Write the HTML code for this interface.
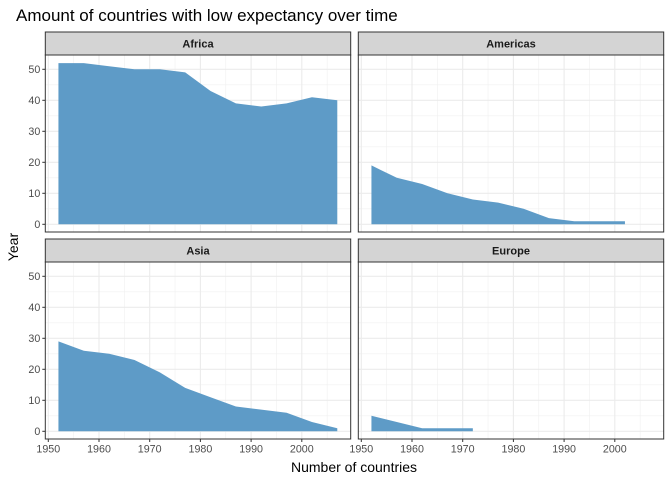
<!DOCTYPE html>
<html><head><meta charset="utf-8"><style>
body{margin:0;background:#fff;font-family:"Liberation Sans",sans-serif}
</style></head><body>
<svg id="c" width="672" height="480" xmlns="http://www.w3.org/2000/svg">
<text x="16" y="21" font-size="17" fill="#000">Amount of countries with low expectancy over time</text>
<text x="354" y="472" font-size="14" text-anchor="middle" fill="#000">Number of countries</text>
<text x="18" y="247" font-size="14" text-anchor="middle" fill="#000" transform="rotate(-90 18 247)">Year</text>
<g id="g"></g>
</svg>
<script>
const years=[1952,1957,1962,1967,1972,1977,1982,1987,1992,1997,2002,2007];
const panelNames=["Africa","Americas","Asia","Europe"];
const africa=[52,52,51,50,50,49,43,39,38,39,41,40];
const americas=[19,15,13,10,8,7,5,2,1,1,1];
const asia=[29,26,25,23,19,14,11,8,7,6,3,1];
const europe=[5,3,1,1,1];
const xTicks=[1950,1960,1970,1980,1990,2000];
const yTicks=[0,10,20,30,40,50];
const series=[africa,americas,asia,europe];
const NS="http://www.w3.org/2000/svg";
const g=document.getElementById('g');
function el(t,a,p){const e=document.createElementNS(NS,t);for(const k in a)e.setAttribute(k,a[k]);(p||g).appendChild(e);return e;}
const panels=[{x:45.3,y:55},{x:358.3,y:55},{x:45.3,y:262},{x:358.3,y:262}];
const W=305.4,H=177;
series.forEach((vals,i)=>{
  const P=panels[i];
  const sx=v=>P.x+3+(v-1950)*5.07;
  const y0=P.y+169.3;
  const sy=v=>y0-v*3.1;
  const pg=el('g',{});
  
  
  el('rect',{x:P.x,y:P.y,width:W,height:H,fill:'#fff'},pg);
  for(let v=1955;v<=2005;v+=10)el('line',{x1:sx(v),x2:sx(v),y1:P.y,y2:P.y+H,stroke:'#f0f0f0','stroke-width':0.6},pg);
  for(let v=5;v<=55;v+=10)if(sy(v)>P.y)el('line',{x1:P.x,x2:P.x+W,y1:sy(v),y2:sy(v),stroke:'#f0f0f0','stroke-width':0.6},pg);
  xTicks.forEach(v=>el('line',{x1:sx(v),x2:sx(v),y1:P.y,y2:P.y+H,stroke:'#ebebeb','stroke-width':1.1},pg));
  yTicks.forEach(v=>el('line',{x1:P.x,x2:P.x+W,y1:sy(v),y2:sy(v),stroke:'#ebebeb','stroke-width':1.1},pg));
  let d='M'+sx(years[0])+','+sy(0);
  vals.forEach((v,j)=>d+=' L'+sx(years[j])+','+sy(v));
  d+=' L'+sx(years[vals.length-1])+','+sy(0)+'Z';
  const a=el('path',{d:d,fill:'#5e9bc7'},pg);
  
  
  el('rect',{x:P.x,y:P.y,width:W,height:H,fill:'none',stroke:'#333','stroke-width':1},pg);
  const s=el('rect',{x:P.x,y:P.y-23,width:W,height:23,fill:'#d4d4d4',stroke:'#333','stroke-width':1},pg);
  
  
  const st=el('text',{x:P.x+W/2,y:P.y-7.5,'font-size':11,'font-weight':'bold','text-anchor':'middle',fill:'#1a1a1a'},pg);
  st.textContent=panelNames[i];
  if(i%2==0){yTicks.forEach(v=>{
    el('line',{x1:P.x-3,x2:P.x,y1:sy(v),y2:sy(v),stroke:'#333'},pg);
    const t=el('text',{x:P.x-5,y:sy(v)+3.8,'font-size':10.7,'text-anchor':'end',fill:'#4d4d4d'},pg);
    
    
    t.textContent=v;});}
  if(i>=2){xTicks.forEach(v=>{
    el('line',{x1:sx(v),x2:sx(v),y1:P.y+H,y2:P.y+H+3,stroke:'#333'},pg);
    const t=el('text',{x:sx(v),y:P.y+H+13.5,'font-size':10.7,'text-anchor':'middle',fill:'#4d4d4d'},pg);
    
    
    t.textContent=v;});}
});
</script>
</body></html>
